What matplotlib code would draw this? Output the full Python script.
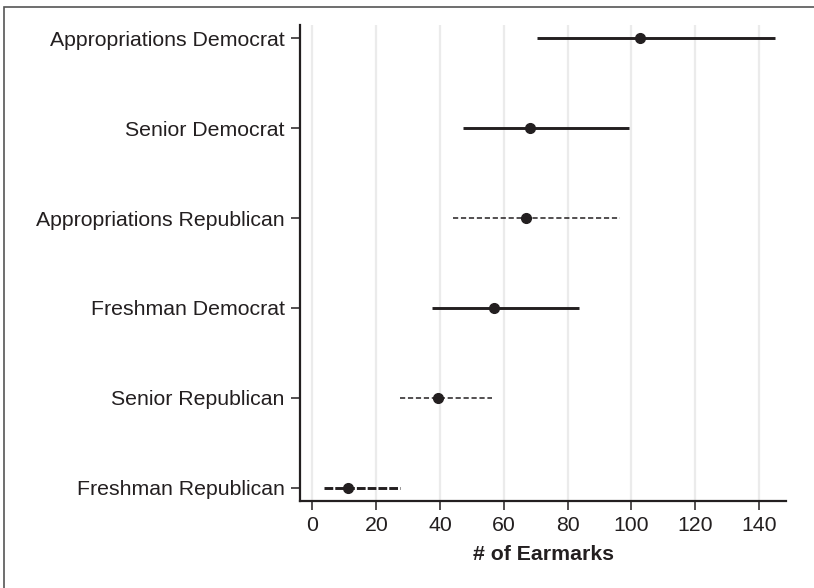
import matplotlib
matplotlib.use('Agg')
import matplotlib.pyplot as plt
from matplotlib.patches import Rectangle

# groups, top to bottom
GROUPS = ['Appropriations Democrat', 'Senior Democrat', 'Appropriations Republican',
          'Freshman Democrat', 'Senior Republican', 'Freshman Republican']
ESTIMATE = [102.7, 68.2, 67.0, 57.0, 39.3, 11.0]
LOWER = [70.3, 47.2, 44.2, 37.6, 27.3, 3.5]
UPPER = [145.0, 99.3, 96.5, 83.6, 56.2, 27.3]
X_TICKS = [0, 20, 40, 60, 80, 100, 120, 140]

# line style per group: (linestyle, linewidth)
STYLES = [('-', 2.1), ('-', 2.1), ((0, (3.4, 1.8)), 1.1),
          ('-', 2.1), ((0, (3.4, 1.8)), 1.1), ((0, (3.0, 0.7)), 2.1)]

INK = '#231f20'

plt.rcParams['font.family'] = ['Liberation Sans', 'DejaVu Sans']

fig = plt.figure(figsize=(8.14, 5.88), dpi=100)
ax = fig.add_axes([0.3686, 0.148, 0.597, 0.8095])

# frame round the figure
fig.patches.append(Rectangle((0.005, -0.01), 1.1, 0.998, transform=fig.transFigure,
                             fill=False, edgecolor='#555555', linewidth=1.2))

for i, name in enumerate(GROUPS):
    ls, lw = STYLES[i]
    ax.plot([LOWER[i], UPPER[i]], [i, i], color=INK, linestyle=ls, linewidth=lw,
            solid_capstyle='butt', dash_capstyle='butt', zorder=3)
    ax.plot(ESTIMATE[i], i, 'o', color=INK, markersize=7, zorder=4)

ax.set_xlim(-3.9, 148.5)
ax.set_ylim(len(GROUPS) - 1 + 0.15, -0.15)
ax.set_yticks(range(len(GROUPS)))
ax.set_yticklabels(GROUPS)
ax.set_xticks(X_TICKS)

ax.xaxis.grid(True, color='#ebebeb', linewidth=1.6, zorder=0)
ax.set_axisbelow(True)

for side in ['top', 'right']:
    ax.spines[side].set_visible(False)
for side in ['left', 'bottom']:
    ax.spines[side].set_linewidth(1.6)
    ax.spines[side].set_color(INK)

ax.tick_params(axis='both', length=6.5, width=1.1, color=INK, labelcolor=INK,
               labelsize=15.3, pad=4.5)
ax.set_xlabel('# of Earmarks', fontsize=15.3, fontweight='bold', color=INK, labelpad=7)

fig.savefig('out.png', dpi=100)
